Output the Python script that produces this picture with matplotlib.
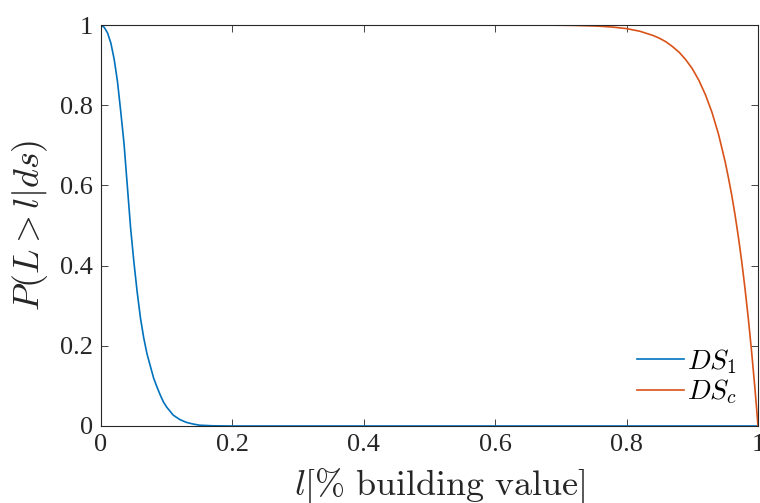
import matplotlib
matplotlib.use("Agg")
import matplotlib.pyplot as plt

#==================Data========================
DS1_L = [0.0, 0.005, 0.01, 0.015, 0.02, 0.025, 0.03, 0.035, 0.04, 0.045, 0.05,
         0.055, 0.06, 0.065, 0.07, 0.075, 0.08, 0.085, 0.09, 0.095, 0.10, 0.11,
         0.12, 0.13, 0.14, 0.15, 0.17, 0.20, 1.0]
DS1_P = [1.0, 0.994, 0.980, 0.955, 0.915, 0.860, 0.785, 0.705, 0.600, 0.495, 0.410,
         0.335, 0.270, 0.220, 0.180, 0.150, 0.120, 0.098, 0.078, 0.060, 0.047, 0.027,
         0.016, 0.009, 0.005, 0.002, 0.0005, 0.0, 0.0]

DSC_L = [0.0, 0.5, 0.6, 0.62, 0.65, 0.68, 0.7, 0.72, 0.75, 0.76, 0.78, 0.8, 0.82,
         0.84, 0.85, 0.86, 0.87, 0.88, 0.89, 0.90, 0.91, 0.92, 0.93, 0.94, 0.95,
         0.955, 0.96, 0.965, 0.97, 0.975, 0.98, 0.985, 0.99, 0.995, 0.998, 1.0]
DSC_P = [1.0, 1.0, 1.0, 1.0, 0.9999, 0.9997, 0.9994, 0.999, 0.9976, 0.9969, 0.9946,
         0.991, 0.9845, 0.974, 0.967, 0.958, 0.946, 0.932, 0.9135, 0.891, 0.862,
         0.826, 0.782, 0.727, 0.659, 0.619, 0.576, 0.527, 0.473, 0.413, 0.346,
         0.272, 0.190, 0.100, 0.041, 0.0]

XTICKS = [0, 0.2, 0.4, 0.6, 0.8, 1]
YTICKS = [0, 0.2, 0.4, 0.6, 0.8, 1]
XTICKLABELS = ["0", "0.2", "0.4", "0.6", "0.8", "1"]
YTICKLABELS = ["0", "0.2", "0.4", "0.6", "0.8", "1"]

BLUE = "#0072BD"
ORANGE = "#D95319"
AXCOLOR = "#262626"

#==================Plot========================
matplotlib.rcParams['font.family'] = ['Liberation Serif', 'DejaVu Serif']
matplotlib.rcParams['mathtext.fontset'] = 'cm'

fig = plt.figure(figsize=(7.6, 5.03), dpi=100)
ax = fig.add_axes([101/760., 1 - 426/503., 657/760., 401/503.])

ax.plot(DS1_L, DS1_P, color=BLUE, lw=1.2, label=r"$DS_1$")
ax.plot(DSC_L, DSC_P, color=ORANGE, lw=1.2, label=r"$DS_c$")

ax.set_xlim(0, 1)
ax.set_ylim(0, 1)
ax.set_xticks(XTICKS)
ax.set_xticklabels(XTICKLABELS)
ax.set_yticks(YTICKS)
ax.set_yticklabels(YTICKLABELS)
ax.tick_params(direction='in', top=True, right=True, length=5, width=0.6,
               color=AXCOLOR, labelsize=19, labelcolor=AXCOLOR, pad=6)
for s in ax.spines.values():
    s.set_color(AXCOLOR)
    s.set_linewidth(0.8)

ax.set_ylabel(r"$P(L > l|ds)$", fontsize=26, color=AXCOLOR, labelpad=7)
ax.set_xlabel(r"$l[\%\ \mathrm{building\ value}]$", fontsize=26, color=AXCOLOR, labelpad=7)
ax.xaxis.label.set_x(0.516)

ax.legend(loc='lower right', frameon=False, fontsize=20, handlelength=1.7,
          handletextpad=0.1, labelspacing=0.05, borderpad=0, borderaxespad=0,
          bbox_to_anchor=(0.968, 0.05))

fig.savefig("out.png", dpi=100)
